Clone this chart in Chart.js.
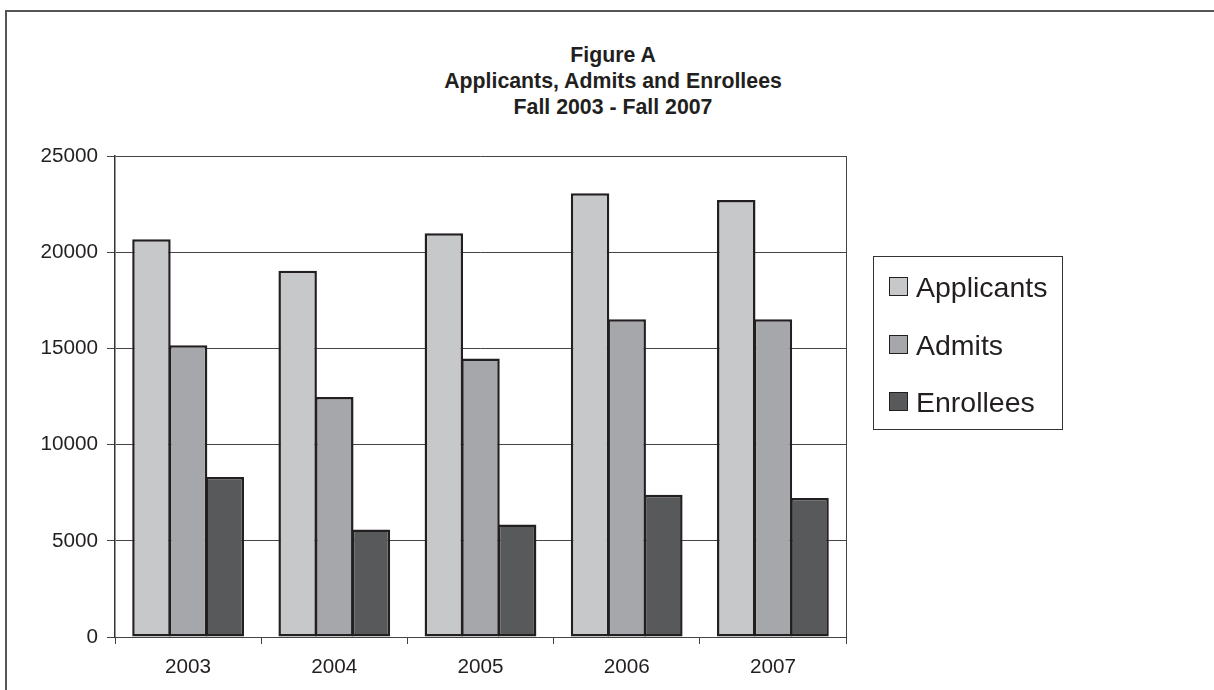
<!DOCTYPE html>
<html>
<head>
<meta charset="utf-8">
<script src="https://cdn.jsdelivr.net/npm/chart.js@4.4.1/dist/chart.umd.min.js"></script>
<style>
  body { margin: 0; background: #fff; font-family: 'Liberation Sans', Arial, sans-serif; color: #231f20; }
  .wrap { position: relative; width: 1214px; height: 690px; overflow: hidden; }
  .frame { position: absolute; left: 5px; top: 10px; right: -10px; bottom: -10px; border-top: 2px solid #555; border-left: 2px solid #555; }
  .title { position: absolute; left: 0; top: 42px; width: 1226px; text-align: center; font-weight: bold; font-size: 21.3px; line-height: 26px; }
  .legend { position: absolute; left: 873px; top: 256px; width: 188px; height: 172px; border: 1px solid #333; }
  .leg-item { position: absolute; left: 15px; height: 20px; }
  .leg-box { position: absolute; left: 0; top: 0; width: 17px; height: 17px; border: 1.5px solid #231f20; }
  .leg-txt { position: absolute; left: 27px; top: 0; font-size: 28.5px; line-height: 20px; white-space: nowrap; }
  canvas { position: absolute; left: 0; top: 0; }
</style>
</head>
<body>
<div class="wrap">
  <div class="frame"></div>
  <div class="title" id="title"></div>
  <canvas id="chart" width="1214" height="690"></canvas>
  <div class="legend" id="legend"></div>
</div>
<script>
// datos
const titleLines = ['Figure A', 'Applicants, Admits and Enrollees', 'Fall 2003 - Fall 2007'];
const years      = ['2003', '2004', '2005', '2006', '2007'];
const seriesNames = ['Applicants', 'Admits', 'Enrollees'];
const applicants = [20670, 19040, 20980, 23060, 22710];
const admits     = [15170, 12480, 14480, 16520, 16510];
const enrollees  = [8320, 5590, 5850, 7390, 7230];
const yTicks     = [0, 5000, 10000, 15000, 20000, 25000];

const fills = ['#c7c8ca', '#a6a7aa', '#58595b'];
const ink   = '#231f20';

document.getElementById('title').innerHTML = titleLines.map(t => `<div>${t}</div>`).join('');

// leyenda en HTML para poder colocarla igual que en la figura
document.getElementById('legend').innerHTML = seriesNames.map((n, i) => `
  <div class="leg-item" style="top:${20 + i * 57.5}px">
    <div class="leg-box" style="background:${fills[i]}"></div>
    <span class="leg-txt">${n}</span>
  </div>`).join('');

// borde derecho del área de trazado
const plotBorder = {
  id: 'plotBorder',
  afterDraw(c) {
    const { ctx, chartArea: a } = c;
    ctx.save();
    ctx.strokeStyle = '#444';
    ctx.lineWidth = 1;
    ctx.beginPath();
    ctx.moveTo(Math.round(a.right) + 0.5, a.top);
    ctx.lineTo(Math.round(a.right) + 0.5, a.bottom);
    ctx.stroke();
    ctx.restore();
  },
};

const series = [applicants, admits, enrollees];
const tickFont = { family: "'Liberation Sans', Arial", size: 20.7 };

new Chart(document.getElementById('chart'), {
  type: 'bar',
  data: {
    labels: years,
    datasets: series.map((d, i) => ({
      label: seriesNames[i],
      data: d,
      backgroundColor: fills[i],
      borderColor: ink,
      borderWidth: 2.5,
      borderSkipped: false,
      categoryPercentage: 0.752,
      barPercentage: 1.05,
    })),
  },
  options: {
    responsive: false,
    animation: false,
    layout: { padding: { left: 0, right: 368, top: 156, bottom: 0 } },
    plugins: { legend: { display: false }, title: { display: false }, tooltip: { enabled: false } },
    scales: {
      x: {
        afterFit: s => { s.height = 53; },
        grid: { drawOnChartArea: false, drawTicks: true, tickLength: 7, color: '#444', offset: true },
        border: { display: true, color: '#444', width: 1 },
        ticks: { color: ink, padding: 11, font: tickFont },
      },
      y: {
        min: 0,
        max: 25000,
        afterBuildTicks: s => { s.ticks = yTicks.map(v => ({ value: v })); },
        afterFit: s => { s.width = 115; },
        grid: { color: '#444', lineWidth: 1, tickLength: 8 },
        border: { display: true, color: '#333', width: 1.5 },
        ticks: { color: ink, padding: 9, callback: v => String(v), font: tickFont },
      },
    },
  },
  plugins: [plotBorder],
});
</script>
</body>
</html>
